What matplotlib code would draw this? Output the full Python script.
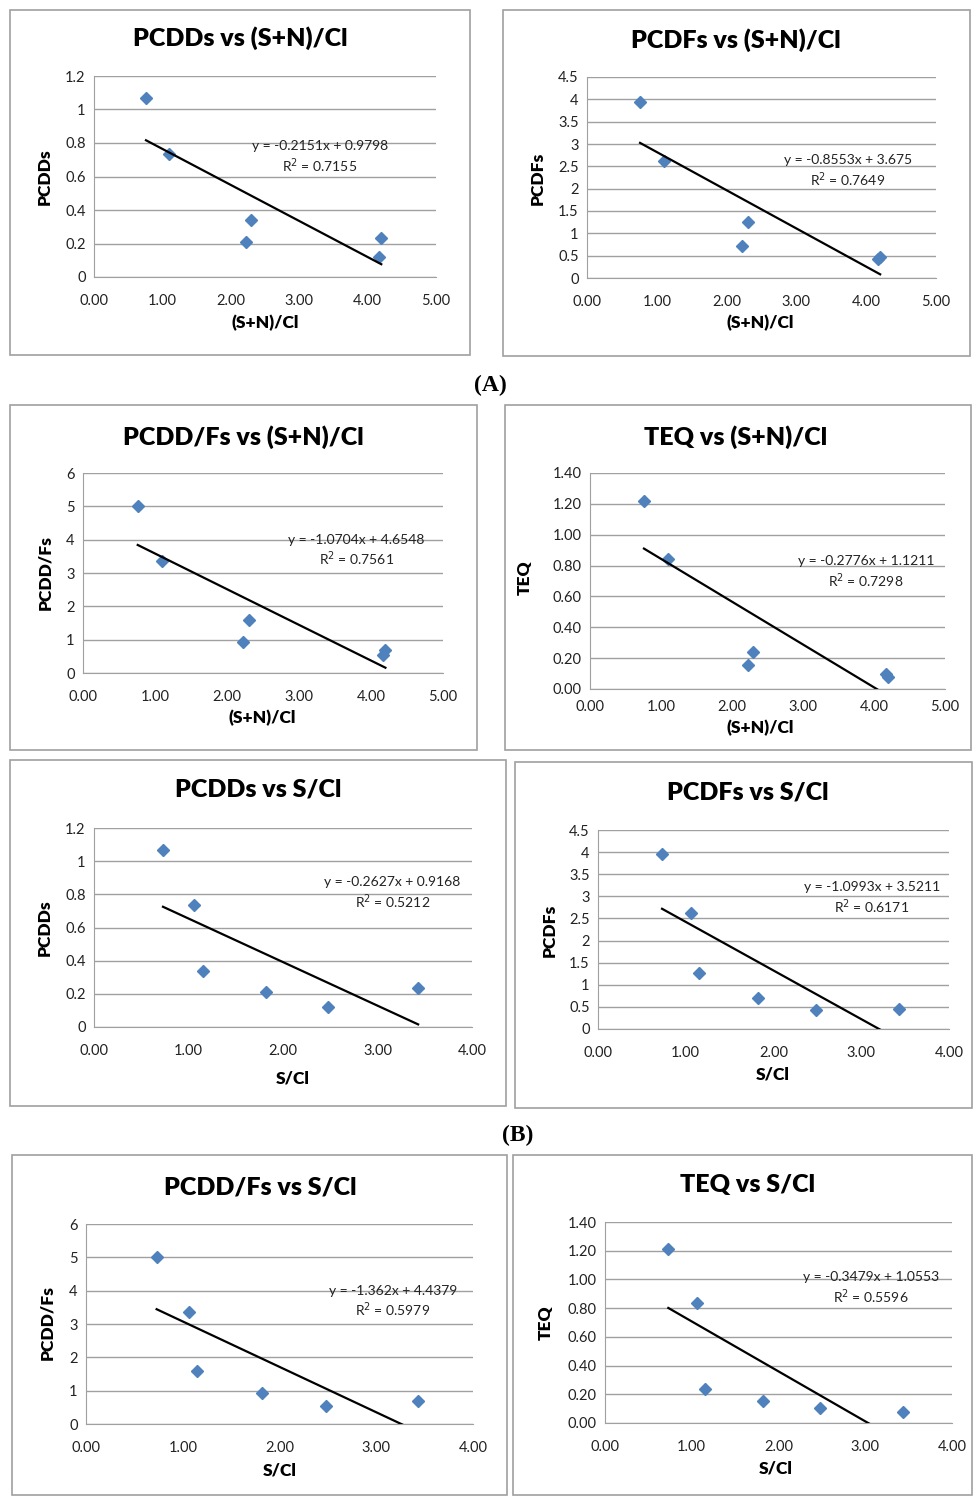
import matplotlib
matplotlib.use("Agg")
import matplotlib.pyplot as plt
import numpy as np
from matplotlib.patches import Rectangle
from matplotlib.ticker import FuncFormatter, MultipleLocator

plt.rcParams['font.family'] = ['Lato', 'DejaVu Sans']

# x values for the six samples
sn_cl = [0.76, 1.10, 2.30, 2.22, 4.17, 4.20]
s_cl = [0.73, 1.06, 1.15, 1.82, 2.48, 3.43]

# responses (same sample order)
pcdds = [1.07, 0.735, 0.34, 0.21, 0.12, 0.235]
pcdfs = [3.95, 2.62, 1.26, 0.71, 0.43, 0.46]
pcddfs = [5.0, 3.35, 1.60, 0.92, 0.53, 0.68]
teq = [1.21, 0.835, 0.24, 0.155, 0.105, 0.075]
teq_sn = [1.22, 0.84, 0.24, 0.155, 0.10, 0.08]

titles = ["PCDDs vs (S+N)/Cl", "PCDFs vs (S+N)/Cl", "PCDD/Fs vs (S+N)/Cl", "TEQ vs (S+N)/Cl",
          "PCDDs vs S/Cl", "PCDFs vs S/Cl", "PCDD/Fs vs S/Cl", "TEQ vs S/Cl"]
ylabels = ["PCDDs", "PCDFs", "PCDD/Fs", "TEQ", "PCDDs", "PCDFs", "PCDD/Fs", "TEQ"]
xlabels = ["(S+N)/Cl"] * 4 + ["S/Cl"] * 4
slopes = [-0.2151, -0.8553, -1.0704, -0.2776, -0.2627, -1.0993, -1.362, -0.3479]
intercepts = [0.9798, 3.675, 4.6548, 1.1211, 0.9168, 3.5211, 4.4379, 1.0553]
eq_text = ["y = -0.2151x + 0.9798", "y = -0.8553x + 3.675", "y = -1.0704x + 4.6548",
           "y = -0.2776x + 1.1211", "y = -0.2627x + 0.9168", "y = -1.0993x + 3.5211",
           "y = -1.362x + 4.4379", "y = -0.3479x + 1.0553"]
r2_text = ["0.7155", "0.7649", "0.7561", "0.7298", "0.5212", "0.6171", "0.5979", "0.5596"]
y_max = [1.2, 4.5, 6, 1.4, 1.2, 4.5, 6, 1.4]
y_step = [0.2, 0.5, 1, 0.2, 0.2, 0.5, 1, 0.2]
x_max = [5, 5, 5, 5, 4, 4, 4, 4]

xs = [sn_cl] * 4 + [s_cl] * 4
ys = [pcdds, pcdfs, pcddfs, teq_sn, pcdds, pcdfs, pcddfs, teq]

W, H = 973, 1496
fig = plt.figure(figsize=(W / 100, H / 100), dpi=100)

# layout in pixels: box, plot area, title, ylabel, xlabel; equation in axes fraction
boxes = [(10, 10, 470, 355), (503, 10, 970, 356), (10, 405, 477, 750), (505, 405, 971, 750),
         (10, 760, 506, 1106), (515, 762, 972, 1108), (12, 1155, 507, 1495), (513, 1155, 972, 1495)]
plots = [(94, 76, 436, 277), (587, 77, 936, 278), (83, 473, 443, 673), (590, 473, 945, 689),
         (94, 828, 472, 1027), (598, 830, 949, 1029), (86, 1224, 473, 1424), (605, 1222, 952, 1423)]
title_pos = [(240, 38), (736, 40), (243, 437), (736, 437), (258, 790), (748, 793), (260, 1187), (748, 1185)]
ylab_pos = [(45, 177), (538, 178), (45, 573), (525, 578), (45, 928), (550, 930), (47, 1323), (546, 1323)]
xlab_pos = [(265, 323), (760, 323), (262, 718), (760, 728), (293, 1078), (773, 1075), (280, 1470), (776, 1468)]
eq_pos = [(0.66, 0.595), (0.748, 0.53), (0.76, 0.61), (0.777, 0.54),
          (0.79, 0.67), (0.78, 0.656), (0.793, 0.61), (0.767, 0.67)]

grid_c = '#a0a0a0'


def fx(x):
    return x / W


def fy(y):
    return 1 - y / H


def fmt_general(v, _):
    s = f"{v:.2f}".rstrip('0').rstrip('.')
    return s if s else "0"


for i in range(8):
    x0, y0, x1, y1 = boxes[i]
    fig.patches.append(Rectangle((fx(x0), fy(y1)), fx(x1 - x0), (y1 - y0) / H,
                                 transform=fig.transFigure, fill=False, ec='#a0a0a0', lw=1.2))
    px0, py0, px1, py1 = plots[i]
    ax = fig.add_axes([fx(px0), fy(py1), fx(px1 - px0), (py1 - py0) / H])

    x = np.array(xs[i])
    y = np.array(ys[i])
    ax.plot(x, y, 'D', color='#4f81bd', markersize=6.5, zorder=3, clip_on=False)
    xl = np.array([x.min(), x.max()])
    ax.plot(xl, slopes[i] * xl + intercepts[i], color='black', lw=1.6, zorder=4)

    ax.set_xlim(0, x_max[i])
    ax.set_ylim(0, y_max[i])
    ax.xaxis.set_major_locator(MultipleLocator(1))
    ax.yaxis.set_major_locator(MultipleLocator(y_step[i]))
    ax.xaxis.set_major_formatter(FuncFormatter(lambda v, _: f"{v:.2f}"))
    if i in (3, 7):
        ax.yaxis.set_major_formatter(FuncFormatter(lambda v, _: f"{v:.2f}"))
    else:
        ax.yaxis.set_major_formatter(FuncFormatter(fmt_general))
    ax.grid(axis='y', color=grid_c, lw=1)
    ax.set_axisbelow(True)
    for s in ('top', 'right'):
        ax.spines[s].set_visible(False)
    for s in ('left', 'bottom'):
        ax.spines[s].set_color(grid_c)
    ax.tick_params(length=0, labelsize=10.5, colors='#222222', pad=6)
    ax.tick_params(axis='x', pad=12 if i != 3 else 8)

    ex, ey = eq_pos[i]
    ax.text(ex, ey, eq_text[i] + "\nR$^2$ = " + r2_text[i], transform=ax.transAxes,
            ha='center', va='center', fontsize=10, color='#222222', linespacing=1.25)

    tx, ty = title_pos[i]
    fig.text(fx(tx), fy(ty), titles[i], ha='center', va='center', fontsize=18, fontweight='heavy')
    lx, ly = ylab_pos[i]
    fig.text(fx(lx), fy(ly), ylabels[i], ha='center', va='center', rotation=90,
             fontsize=12.5, fontweight='heavy')
    bx, by = xlab_pos[i]
    fig.text(fx(bx), fy(by), xlabels[i], ha='center', va='center', fontsize=12.5, fontweight='heavy')

fig.text(fx(490), fy(385), "(A)", ha='center', va='center', fontsize=17, fontweight='bold',
         family='Liberation Serif')
fig.text(fx(518), fy(1135), "(B)", ha='center', va='center', fontsize=17, fontweight='bold',
         family='Liberation Serif')

fig.savefig("out.png", dpi=100)
